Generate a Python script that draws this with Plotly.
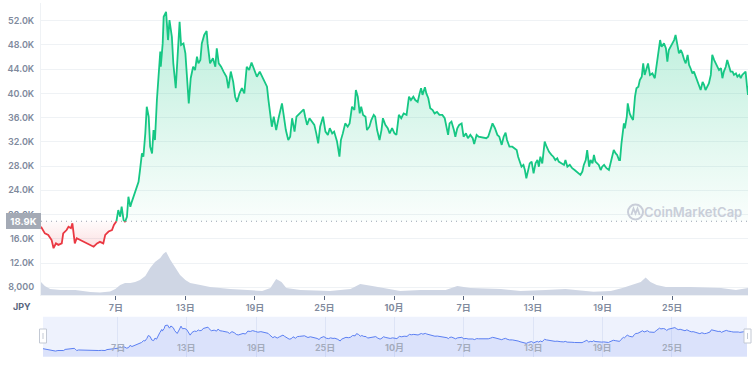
import plotly.graph_objects as go
from datetime import datetime

YEAR = 2021
BASELINE = 18900

price_times = [
    "08-31 13", "08-31 21", "09-01 04", "09-01 11", "09-01 15", "09-01 20", "09-02 01", "09-02 08", "09-02 11", "09-02 18",
    "09-02 22", "09-03 03", "09-03 06", "09-03 08", "09-03 11", "09-03 15", "09-03 22", "09-04 05", "09-04 12", "09-04 19",
    "09-05 02", "09-05 09", "09-05 15", "09-05 22", "09-06 02", "09-06 09", "09-06 16", "09-06 20", "09-07 01", "09-07 05",
    "09-07 09", "09-07 12", "09-07 16", "09-07 19", "09-07 23", "09-08 02", "09-08 06", "09-08 09", "09-08 13", "09-08 16",
    "09-08 20", "09-08 23", "09-09 02", "09-09 06", "09-09 09", "09-09 13", "09-09 16", "09-09 20", "09-09 23", "09-10 03",
    "09-10 06", "09-10 09", "09-10 13", "09-10 16", "09-10 20", "09-10 21", "09-11 01", "09-11 03", "09-11 08", "09-11 12",
    "09-11 15", "09-11 20", "09-11 23", "09-12 04", "09-12 08", "09-12 12", "09-12 15", "09-12 20", "09-13 00", "09-13 03",
    "09-13 07", "09-13 11", "09-13 16", "09-13 20", "09-14 00", "09-14 03", "09-14 07", "09-14 10", "09-14 15", "09-14 20",
    "09-14 22", "09-15 03", "09-15 09", "09-15 14", "09-15 17", "09-15 21", "09-16 02", "09-16 07", "09-16 13", "09-16 17",
    "09-16 22", "09-17 03", "09-17 07", "09-17 11", "09-17 16", "09-17 21", "09-18 02", "09-18 07", "09-18 12", "09-18 17",
    "09-18 23", "09-19 04", "09-19 10", "09-19 18", "09-20 01", "09-20 04", "09-20 08", "09-20 11", "09-20 15", "09-20 20",
    "09-21 01", "09-21 08", "09-21 11", "09-21 16", "09-21 21", "09-22 01", "09-22 05", "09-22 10", "09-22 14", "09-22 18",
    "09-22 23", "09-23 05", "09-23 08", "09-23 12", "09-23 17", "09-23 22", "09-24 03", "09-24 07", "09-24 11", "09-24 15",
    "09-24 21", "09-25 02", "09-25 07", "09-25 11", "09-25 16", "09-25 20", "09-26 02", "09-26 07", "09-26 10", "09-26 14",
    "09-26 19", "09-27 00", "09-27 04", "09-27 09", "09-27 14", "09-27 17", "09-27 21", "09-28 01", "09-28 04", "09-28 08",
    "09-28 13", "09-28 16", "09-28 21", "09-29 01", "09-29 06", "09-29 09", "09-29 13", "09-29 18", "09-29 22", "09-30 01",
    "09-30 06", "09-30 11", "09-30 15", "09-30 20", "10-01 01", "10-01 05", "10-01 10", "10-01 15", "10-01 20", "10-02 02",
    "10-02 07", "10-02 11", "10-02 16", "10-02 20", "10-03 01", "10-03 05", "10-03 08", "10-03 11", "10-03 16", "10-03 19",
    "10-03 23", "10-04 03", "10-04 08", "10-04 12", "10-04 17", "10-04 22", "10-05 04", "10-05 09", "10-05 13", "10-05 16",
    "10-05 19", "10-05 23", "10-06 04", "10-06 07", "10-06 11", "10-06 15", "10-06 20", "10-07 00", "10-07 05", "10-07 09",
    "10-07 14", "10-07 19", "10-07 22", "10-08 03", "10-08 07", "10-08 13", "10-08 18", "10-08 23", "10-09 03", "10-09 08",
    "10-09 12", "10-09 17", "10-09 22", "10-10 02", "10-10 07", "10-10 11", "10-10 15", "10-10 18", "10-10 23", "10-11 05",
    "10-11 10", "10-11 14", "10-11 17", "10-11 21", "10-12 00", "10-12 04", "10-12 07", "10-12 10", "10-12 14", "10-12 17",
    "10-12 21", "10-13 01", "10-13 05", "10-13 09", "10-13 12", "10-13 15", "10-13 19", "10-13 22", "10-14 00", "10-14 04",
    "10-14 09", "10-14 14", "10-14 18", "10-14 22", "10-15 02", "10-15 05", "10-15 10", "10-15 16", "10-15 19", "10-15 23",
    "10-16 04", "10-16 09", "10-16 14", "10-16 18", "10-16 23", "10-17 02", "10-17 06", "10-17 09", "10-17 13", "10-17 16",
    "10-17 20", "10-17 23", "10-18 03", "10-18 06", "10-18 09", "10-18 13", "10-18 16", "10-18 20", "10-18 23", "10-19 03",
    "10-19 08", "10-19 13", "10-19 16", "10-19 20", "10-19 23", "10-20 03", "10-20 06", "10-20 10", "10-20 12", "10-20 15",
    "10-20 17", "10-20 20", "10-20 22", "10-21 02", "10-21 04", "10-21 08", "10-21 11", "10-21 15", "10-21 19", "10-21 22",
    "10-22 02", "10-22 05", "10-22 09", "10-22 12", "10-22 15", "10-22 19", "10-22 22", "10-23 02", "10-23 07", "10-23 12",
    "10-23 16", "10-23 19", "10-23 23", "10-24 02", "10-24 07", "10-24 11", "10-24 14", "10-24 17", "10-24 21", "10-25 00",
    "10-25 04", "10-25 07", "10-25 11", "10-25 14", "10-25 18", "10-25 21", "10-26 01", "10-26 04", "10-26 08", "10-26 11",
    "10-26 14", "10-26 18", "10-26 21", "10-27 01", "10-27 04", "10-27 08", "10-27 11", "10-27 15", "10-27 18", "10-27 21",
    "10-28 01", "10-28 04", "10-28 08", "10-28 11", "10-28 15", "10-28 18", "10-28 22", "10-29 01", "10-29 05", "10-29 08",
    "10-29 11", "10-29 15", "10-29 18", "10-29 22", "10-30 01", "10-30 05", "10-30 08", "10-30 12", "10-30 15", "10-30 19",
    "10-30 22", "10-31 01", "10-31 05", "10-31 08", "10-31 11", "10-31 13",
]

price_jpy = [
    18000, 16900, 16650, 15800, 14450, 15250, 15000, 15250, 16900, 17450,
    18000, 17750, 18550, 17450, 15250, 16100, 15800, 15500, 15250, 15000,
    14700, 15250, 15500, 15250, 16650, 17200, 17450, 18300, 18800, 20750,
    19650, 21300, 19100, 18800, 19650, 22950, 21300, 22100, 22950, 23800,
    24600, 25400, 27350, 30100, 29550, 33400, 37800, 36150, 31200, 30100,
    33950, 32300, 38900, 42200, 46900, 44400, 48250, 52650, 53450, 48800,
    52100, 49350, 44950, 40850, 46050, 51800, 48000, 48250, 46600, 43050,
    38350, 42500, 44400, 43850, 46050, 44950, 45500, 48250, 49650, 50300,
    48250, 44950, 45800, 44400, 47450, 44950, 44400, 43600, 42750, 40850,
    43600, 41900, 39450, 38600, 40000, 40850, 40000, 44400, 43850, 45100,
    43850, 42750, 43600, 42200, 41100, 38900, 36700, 34500, 36150, 33950,
    35950, 38350, 36700, 33950, 32300, 32850, 35900, 33700, 36150, 36450,
    36950, 37350, 36150, 34800, 35900, 35350, 34800, 33400, 31750, 34500,
    36150, 33700, 33150, 34250, 33400, 33700, 32050, 29550, 32300, 33400,
    35050, 34500, 35050, 37800, 37250, 40550, 39450, 36700, 37800, 36450,
    36150, 33950, 34500, 35600, 36450, 36150, 33950, 32300, 33950, 35900,
    34800, 34250, 33400, 34250, 33400, 33150, 36450, 35900, 36700, 36450,
    39450, 38900, 39450, 38900, 38600, 40000, 40850, 39750, 41000, 40000,
    39200, 37550, 37250, 36700, 36950, 36450, 36450, 35900, 34500, 33150,
    35050, 35350, 33950, 32850, 34250, 34800, 35050, 32850, 33400, 32600,
    33150, 32600, 31650, 33150, 32850, 32750, 32750, 32600, 32850, 33950,
    35050, 34250, 33150, 32850, 31500, 32850, 33500, 32300, 31200, 31200,
    30950, 30650, 29550, 28450, 27900, 28200, 27350, 26000, 27350, 28450,
    28750, 26800, 28450, 29000, 27900, 29550, 28450, 31200, 32050, 31200,
    30350, 29850, 29550, 29000, 29300, 28750, 28450, 28200, 29000, 27900,
    28200, 27650, 27350, 27100, 26800, 26550, 27100, 28200, 29000, 30650,
    27900, 29000, 28450, 29850, 28750, 28450, 28200, 27350, 27900, 28200,
    27650, 27350, 28450, 29550, 30650, 30100, 29850, 29000, 29000, 31750,
    33400, 35050, 34250, 36150, 38350, 36700, 36150, 35600, 39450, 40850,
    41100, 42200, 42750, 44950, 43050, 44400, 44950, 43050, 43300, 42500,
    44950, 47150, 48800, 47700, 48250, 47450, 45250, 47150, 47700, 48250,
    48800, 49650, 47700, 46600, 47150, 46600, 45500, 44950, 46350, 44700,
    44150, 43300, 43600, 42750, 42200, 41400, 40550, 41900, 41400, 40550,
    41100, 41650, 43050, 46350, 45500, 44950, 44400, 43850, 44150, 42500,
    43600, 44400, 45500, 44400, 43600, 43600, 43050, 43300, 42750, 43050,
    42500, 43050, 43300, 43600, 41100, 39750,
]

volume_times = [
    "08-31 13", "08-31 21", "09-01 08", "09-02 05", "09-03 12", "09-04 19", "09-05 15", "09-06 12", "09-06 23", "09-07 09",
    "09-07 19", "09-08 06", "09-08 16", "09-09 02", "09-09 13", "09-09 23", "09-10 09", "09-10 20", "09-11 02", "09-11 08",
    "09-11 17", "09-12 03", "09-12 13", "09-13 00", "09-13 10", "09-14 07", "09-15 03", "09-16 21", "09-18 14", "09-19 15",
    "09-20 08", "09-20 20", "09-21 07", "09-21 17", "09-22 22", "09-25 12", "09-27 06", "09-28 02", "09-29 03", "09-30 06",
    "10-01 13", "10-03 07", "10-05 11", "10-06 11", "10-07 14", "10-10 05", "10-11 22", "10-14 02", "10-15 19", "10-18 05",
    "10-19 17", "10-20 17", "10-21 10", "10-22 07", "10-22 17", "10-23 03", "10-23 16", "10-24 11", "10-26 14", "10-27 21",
    "10-29 05", "10-30 12", "10-31 13",
]
volume_jpy_bn = [
    130, 90, 60, 50, 50, 30, 25, 35, 60, 100,
    120, 120, 130, 150, 190, 270, 330, 370, 410, 433,
    350, 270, 200, 150, 120, 100, 80, 60, 50, 40,
    70, 160, 130, 70, 50, 40, 60, 110, 90, 70,
    40, 50, 50, 90, 70, 60, 40, 50, 60, 33,
    40, 70, 100, 130, 175, 130, 100, 80, 80, 75,
    70, 50, 70,
]

y_tick_values = [8000, 12000, 16000, 20000, 24000, 28000, 32000, 36000, 40000, 44000, 48000, 52000]
y_tick_labels = ["8,000", "12.0K", "16.0K", "20.0K", "24.0K", "28.0K", "32.0K", "36.0K", "40.0K", "44.0K", "48.0K", "52.0K"]
x_tick_dates = ["09-07 00", "09-13 00", "09-19 00", "09-25 00", "10-01 00", "10-07 00", "10-13 00", "10-19 00", "10-25 00"]
x_tick_labels = ["7日", "13日", "19日", "25日", "<b>10月</b>", "7日", "13日", "19日", "25日"]


def ts(s):
    return datetime.strptime(f"{YEAR}-{s}", "%Y-%m-%d %H")


W, H = 755, 366
ML, MR, MT, MB = 41, 7, 3, 0
PW, PH = W - ML - MR, H - MT - MB


def px(x):
    return (x - ML) / PW


def py(y):
    return (H - MB - y) / PH


GREEN = "#16c784"
RED = "#ea3943"
GRID = "#eff2f5"
LABEL = "#808a9d"
FONT = "Inter, Noto Sans CJK JP, sans-serif"

t = [ts(s) for s in price_times]
xs, ys = [], []
for i in range(len(t)):
    if i > 0:
        v0, v1 = price_jpy[i - 1], price_jpy[i]
        if (v0 - BASELINE) * (v1 - BASELINE) < 0:
            f = (BASELINE - v0) / (v1 - v0)
            xs.append(t[i - 1] + (t[i] - t[i - 1]) * f)
            ys.append(BASELINE)
    xs.append(t[i])
    ys.append(price_jpy[i])

green = [y if y >= BASELINE else None for y in ys]
red = [y if y <= BASELINE else None for y in ys]
up = [max(y, BASELINE) for y in ys]
dn = [min(y, BASELINE) for y in ys]
base = [BASELINE] * len(ys)

x_range = [t[0], t[-1]]
tick_x = [ts(s) for s in x_tick_dates]

fig = go.Figure()
fig.add_trace(go.Scatter(x=[ts(s) for s in volume_times], y=volume_jpy_bn, yaxis="y2", mode="lines",
                         line=dict(width=0), fill="tozeroy", fillcolor="#cfd6e4", hoverinfo="skip"))
fig.add_trace(go.Scatter(x=xs, y=base, mode="lines", line=dict(width=0), hoverinfo="skip"))
fig.add_trace(go.Scatter(x=xs, y=up, mode="lines", line=dict(width=0), fill="tonexty",
                         fillgradient=dict(type="vertical", start=BASELINE, stop=53500,
                                           colorscale=[[0, "rgba(22,199,132,0.02)"], [1, "rgba(22,199,132,0.30)"]]),
                         hoverinfo="skip"))
fig.add_trace(go.Scatter(x=xs, y=base, mode="lines", line=dict(width=0), hoverinfo="skip"))
fig.add_trace(go.Scatter(x=xs, y=dn, mode="lines", line=dict(width=0), fill="tonexty",
                         fillgradient=dict(type="vertical", start=14400, stop=BASELINE,
                                           colorscale=[[0, "rgba(234,57,67,0.16)"], [1, "rgba(234,57,67,0.02)"]]),
                         hoverinfo="skip"))
fig.add_trace(go.Scatter(x=xs, y=red, mode="lines", line=dict(color=RED, width=1.8), connectgaps=False, hoverinfo="skip"))
fig.add_trace(go.Scatter(x=xs, y=green, mode="lines", line=dict(color=GREEN, width=1.8), connectgaps=False, hoverinfo="skip"))
# navigator
fig.add_trace(go.Scatter(x=t, y=price_jpy, xaxis="x2", yaxis="y3", mode="lines",
                         line=dict(color="#5b7ff2", width=1), fill="tozeroy", fillcolor="rgba(91,127,242,0.13)",
                         hoverinfo="skip"))

nav_top, nav_bot = 316.7, 356.7

fig.update_layout(
    width=W, height=H, margin=dict(l=ML, r=MR, t=MT, b=MB, autoexpand=False),
    paper_bgcolor="white", plot_bgcolor="white", showlegend=False,
    font=dict(family=FONT, color=LABEL, size=9),
    xaxis=dict(domain=[0, 1], anchor="y", type="date", range=x_range, tickvals=tick_x, ticktext=x_tick_labels,
               showgrid=False, zeroline=False, showline=True, linecolor=GRID, ticks="outside", ticklen=4,
               tickcolor="#58667e", tickwidth=1, tickfont=dict(size=9, color=LABEL, family=FONT, weight=600),
               automargin=False, fixedrange=True),
    yaxis=dict(domain=[py(295), 1], range=[6730, 54915], tickvals=y_tick_values, ticktext=y_tick_labels,
               gridcolor=GRID, gridwidth=1, zeroline=False, showline=True, linecolor=GRID,
               tickfont=dict(size=9, color=LABEL, family=FONT, weight=600), ticklabelstandoff=4,
               automargin=False, fixedrange=True),
    yaxis2=dict(overlaying="y", range=[0, 2920], visible=False, automargin=False, fixedrange=True),
    xaxis2=dict(domain=[px(43), px(747)], anchor="y3", type="date", range=x_range, tickvals=tick_x,
                showticklabels=False, showgrid=True, gridcolor="#dde4f6", zeroline=False, showline=False,
                ticks="", automargin=False, fixedrange=True),
    yaxis3=dict(domain=[py(nav_bot), py(nav_top)], range=[6000, 66000], visible=False, automargin=False,
                fixedrange=True),
)

shapes = [
    dict(type="rect", xref="x2 domain", yref="y3 domain", x0=0, x1=1, y0=0, y1=1,
         fillcolor="#eef2fd", line=dict(width=0), layer="below"),
    dict(type="line", xref="paper", yref="y", x0=0, x1=1, y0=BASELINE, y1=BASELINE,
         line=dict(color="#9aa3b3", width=1, dash="1px,4px"), layer="between"),
    dict(type="circle", xref="paper", yref="paper", x0=px(628), x1=px(643), y0=py(219.5), y1=py(204.5),
         line=dict(color="#c9ced9", width=2)),
    dict(type="path", xref="paper", yref="paper",
         path=f"M {px(631.3)},{py(215)} L {px(633.5)},{py(208.5)} L {px(635.5)},{py(213.5)} "
              f"L {px(637.5)},{py(208.5)} L {px(639.7)},{py(215)}",
         line=dict(color="#c9ced9", width=1.8)),
    dict(type="rect", xref="paper", yref="paper", x0=px(39.5), x1=px(46.5), y0=py(343), y1=py(329),
         fillcolor="white", line=dict(color="#c3c9d4", width=1)),
    dict(type="line", xref="paper", yref="paper", x0=px(43), x1=px(43), y0=py(339), y1=py(333),
         line=dict(color="#c3c9d4", width=1)),
    dict(type="rect", xref="paper", yref="paper", x0=px(744), x1=px(751), y0=py(343), y1=py(329),
         fillcolor="white", line=dict(color="#c3c9d4", width=1)),
    dict(type="line", xref="paper", yref="paper", x0=px(747.5), x1=px(747.5), y0=py(339), y1=py(333),
         line=dict(color="#c3c9d4", width=1)),
]
fig.update_layout(shapes=shapes)

annotations = [
    dict(xref="paper", yref="y", x=0, y=BASELINE, xanchor="right", yanchor="middle", showarrow=False,
         text="<b>18.9K</b>", font=dict(size=9.5, color="white", family=FONT), bgcolor="#a4aab5",
         bordercolor="#a4aab5", borderwidth=1, borderpad=1, width=31, height=12),
    dict(xref="paper", yref="paper", x=px(22), y=py(306), xanchor="center", yanchor="middle", showarrow=False,
         text="<b>JPY</b>", font=dict(size=9, color="#58667e", family=FONT)),
    dict(xref="paper", yref="paper", x=px(692.5), y=py(211.7), xanchor="center", yanchor="middle",
         showarrow=False, text="CoinMarketCap",
         font=dict(size=13, color="#c9ced9", family=FONT, weight=600)),
]
for d, lab in zip(tick_x, x_tick_labels):
    annotations.append(dict(xref="x2", yref="paper", x=d, y=py(347), xanchor="center", yanchor="middle",
                            showarrow=False, text=lab,
                            font=dict(size=9, color="#a3abbb", family=FONT, weight=600)))
fig.update_layout(annotations=annotations)

fig.write_html("out.html", config={"displayModeBar": False, "staticPlot": True},
               post_script=["document.body.style.margin='0';"])
